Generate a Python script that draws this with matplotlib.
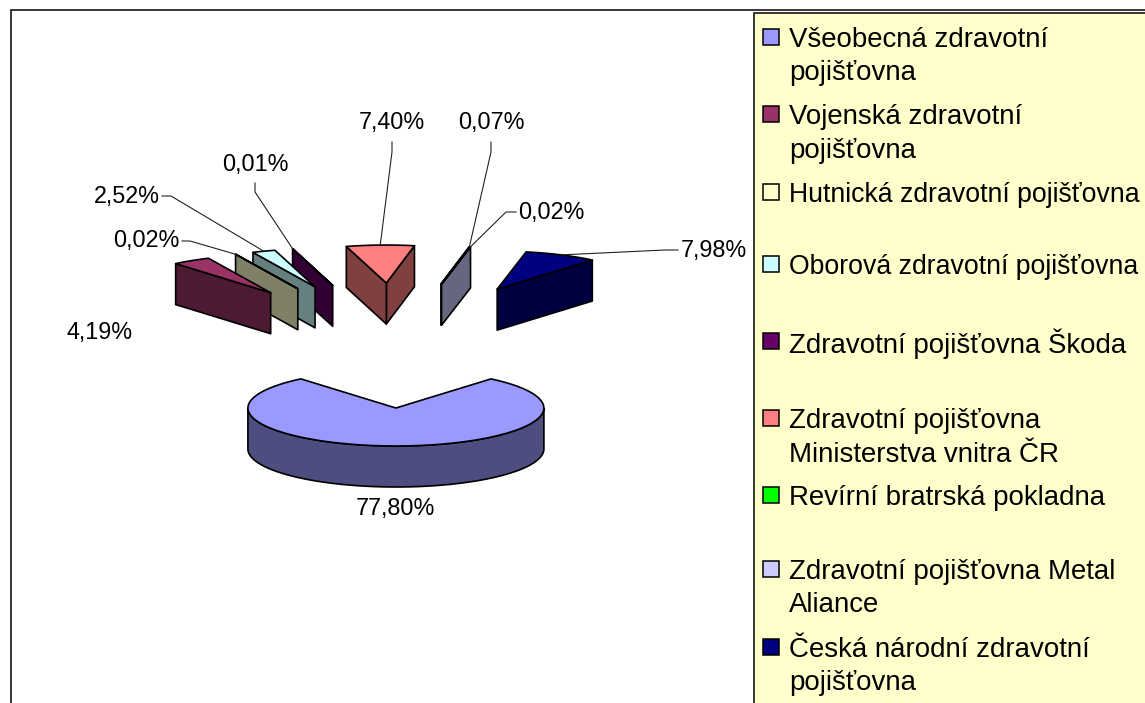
import numpy as np
import matplotlib
matplotlib.use('Agg')
import matplotlib.pyplot as plt
from matplotlib.colors import to_rgb
from matplotlib.patches import Polygon, Rectangle

plt.rcParams['font.family'] = ['Liberation Sans', 'DejaVu Sans']

# pojistovny, clockwise from the first slice
names = ['Všeobecná zdravotní\npojišťovna',
         'Vojenská zdravotní\npojišťovna',
         'Hutnická zdravotní pojišťovna',
         'Oborová zdravotní pojišťovna',
         'Zdravotní pojišťovna Škoda',
         'Zdravotní pojišťovna\nMinisterstva vnitra ČR',
         'Revírní bratrská pokladna',
         'Zdravotní pojišťovna Metal\nAliance',
         'Česká národní zdravotní\npojišťovna']
values = [77.80, 4.19, 0.02, 2.52, 0.01, 7.40, 0.07, 0.02, 7.98]
colors = ['#9999FF', '#993366', '#FFFFCC', '#CCFFFF', '#660066',
          '#FF8080', '#00FF00', '#CCCCFF', '#000080']

# layout, in pixels of the picture
CX, CY = 396, 345.5
RX, RY = 148, 38
DEPTH = 41
EXPLODE_X = 1.58
EXPLODE_Y = 1.645
START = 50

legend_y = [37, 114, 192, 264, 341, 418, 495, 569, 647]
LINE_H = 33.5
# label centre, then the leader start and elbow if it has one
label_pos = [(395, 509), (100, 332), (146, 241), (127, 196), (255, 165),
             (392, 123), (491, 123), (551, 212), (714, 250)]
leaders = [None, None,
           [(182, 241), (190, 241)],
           [(162, 196), (171, 196)],
           [(255, 183), (255, 192)],
           [(392, 142), (392, 152)],
           [(491, 142), (491, 152)],
           [(516, 212), (506, 212)],
           [(678, 250), (665, 250)]]


def draw_slice(ax, t0, t1, color):
    # t0 < t1 in degrees, counter clockwise
    mid = np.radians((t0 + t1) / 2)
    ox = CX + EXPLODE_X * RX * np.cos(mid)
    oy = CY - EXPLODE_Y * RY * np.sin(mid)
    n = max(2, int((t1 - t0) / 3) + 2)
    t = np.radians(np.linspace(t0, t1, n))
    x = ox + RX * np.cos(t)
    y = oy - RY * np.sin(t)
    side = tuple(c * 0.5 for c in to_rgb(color))

    strips = []
    if x[0] > ox:
        strips.append(([ox, x[0]], [oy, y[0]]))
    if ox > x[-1]:
        strips.append(([x[-1], ox], [y[-1], oy]))
    front = np.sin(t) <= 0
    if front.sum() > 1:
        strips.append((x[front], y[front]))
    for sx, sy in strips:
        sx, sy = np.asarray(sx), np.asarray(sy)
        pts = np.r_[np.c_[sx, sy], np.c_[sx, sy + DEPTH][::-1]]
        ax.add_patch(Polygon(pts, closed=True, fc=side, ec='black', lw=1.2, joinstyle='round'))
    top = np.r_[[[ox, oy]], np.c_[x, y]]
    ax.add_patch(Polygon(top, closed=True, fc=color, ec='black', lw=1.2, joinstyle='round'))
    # middle of the rim, the leaders end here
    return ox + RX * np.cos(mid), oy - RY * np.sin(mid)


fig = plt.figure(figsize=(11.45, 7.03), dpi=100)
ax = fig.add_axes([0, 0, 1, 1])
ax.set_xlim(0, 1145)
ax.set_ylim(703, 0)
ax.axis('off')

ax.add_patch(Rectangle((11, 10), 1300, 900, fc='white', ec='black', lw=1.1))

ends = np.cumsum(values) / sum(values) * 360
starts = np.r_[0, ends[:-1]]
spans = [(START - e, START - s) for s, e in zip(starts, ends)]

# back slices first
order = sorted(range(len(values)), key=lambda i: -np.sin(np.radians(sum(spans[i]) / 2)))
rim = {}
for i in order:
    rim[i] = draw_slice(ax, spans[i][0], spans[i][1], colors[i])

for i, v in enumerate(values):
    txt = f'{v:.2f}%'.replace('.', ',')
    ax.text(label_pos[i][0], label_pos[i][1], txt, fontsize=16.8,
            ha='center', va='center', color='black')
    if leaders[i] is not None:
        lx = [p[0] for p in leaders[i]] + [rim[i][0]]
        ly = [p[1] for p in leaders[i]] + [rim[i][1]]
        ax.plot(lx, ly, color='#222222', lw=0.8)

# legend
ax.add_patch(Rectangle((754, 13), 600, 900, fc='#FFFFCC', ec='black', lw=1.1))
for name, col, y in zip(names, colors, legend_y):
    ax.add_patch(Rectangle((763, y - 8), 16, 16, fc=col, ec='black', lw=1.1))
    # the two long lines only just fit up to the right edge
    size = 19.2 if len(name) > 27 and '\n' not in name else 19.9
    for k, line in enumerate(name.split('\n')):
        ax.text(789, y + k * LINE_H, line, fontsize=size, ha='left',
                va='center_baseline', color='black')

fig.savefig('out.png', dpi=100)
